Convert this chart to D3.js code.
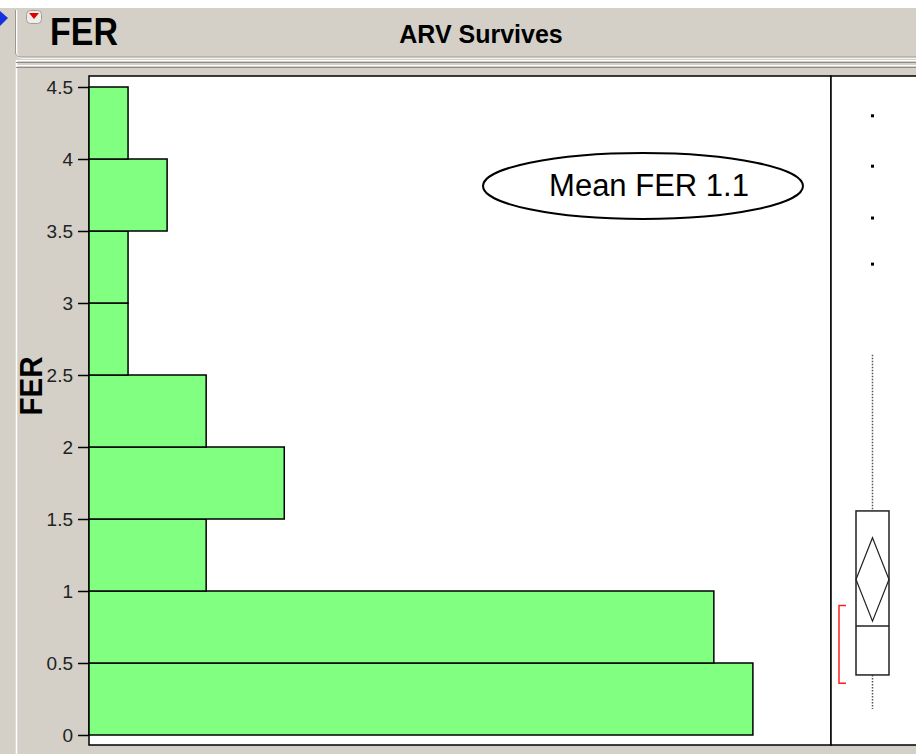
<!DOCTYPE html>
<html>
<head>
<meta charset="utf-8">
<script src="https://cdn.jsdelivr.net/npm/d3@7"></script>
<style>
  html, body { margin: 0; padding: 0; background: #d4d0c8; }
  svg { display: block; font-family: Arial, "Liberation Sans", sans-serif; }
</style>
</head>
<body>
<svg width="916" height="754"></svg>
<script>
// histogram bins (FER) and counts
const binStarts = [0, 0.5, 1, 1.5, 2, 2.5, 3, 3.5, 4];
const binWidth = 0.5;
const counts = [17, 16, 3, 5, 3, 1, 1, 2, 1];
const yTicks = [0, 0.5, 1, 1.5, 2, 2.5, 3, 3.5, 4, 4.5];

// outlier box plot summary
const quartiles = [0.417, 0.757, 1.556];   // q1, median, q3
const whiskers = [0.18, 2.64];
const meanValue = 1.08;
const meanCI = [0.79, 1.37];
const shortestHalf = [0.36, 0.90];
const outliers = [3.27, 3.59, 3.95, 4.30];

const svg = d3.select("svg");

const y = d3.scaleLinear().domain([0, 4.5]).range([735, 87]);
const x = d3.scaleLinear().domain([0, 19]).range([89, 831]);

// window chrome
svg.append("rect").attr("width", 916).attr("height", 754).attr("fill", "#d4d0c8");
svg.append("rect").attr("x", 0).attr("y", 0).attr("width", 916).attr("height", 8).attr("fill", "#fff");
svg.append("line").attr("x1", 16.5).attr("x2", 16.5).attr("y1", 60).attr("y2", 754)
  .attr("stroke", "#fff").attr("stroke-width", 1.5);
svg.append("path")
  .attr("d", "M16.5,10 L16.5,52 Q16.5,58 22.5,58 L916,58")
  .attr("fill", "none").attr("stroke", "#fff").attr("stroke-width", 1.5);
svg.append("path")
  .attr("d", "M15.5,10 L15.5,52 Q15.5,57 21.5,57 L916,57")
  .attr("fill", "none").attr("stroke", "#9a9892").attr("stroke-width", 1);
[[60.5, "#ffffff"], [62.5, "#8f8d88"], [65.5, "#ffffff"], [67.5, "#8f8d88"]].forEach(([yy, c]) => {
  svg.append("line").attr("x1", 16).attr("x2", 916).attr("y1", yy).attr("y2", yy)
    .attr("stroke", c).attr("stroke-width", 1);
});

// blue disclosure triangle and red menu button
svg.append("path").attr("d", "M0,11 L8,18 L0,26 Z").attr("fill", "#1530e0");
svg.append("rect").attr("x", 26.5).attr("y", 10.5).attr("width", 15).attr("height", 13).attr("rx", 4)
  .attr("fill", "#eeeeea").attr("stroke", "#a09e98");
svg.append("path").attr("d", "M29,13 L39,13 L34,19 Z").attr("fill", "#e00000");

svg.append("text").attr("x", 50).attr("y", 45).style("font-size", "38px").attr("font-weight", "bold")
  .attr("textLength", 68).attr("lengthAdjust", "spacingAndGlyphs").text("FER");
svg.append("text").attr("x", 481).attr("y", 43).attr("text-anchor", "middle")
  .style("font-size", "25px").attr("font-weight", "bold").text("ARV Survives");

// plot areas
svg.append("rect").attr("x", x(0)).attr("y", 76).attr("width", x(19) - x(0)).attr("height", 669)
  .attr("fill", "#fff").attr("stroke", "#000").attr("stroke-width", 1.5);
svg.append("rect").attr("x", x(19)).attr("y", 76).attr("width", 100).attr("height", 669)
  .attr("fill", "#fff").attr("stroke", "#000").attr("stroke-width", 1.5);

// histogram bars
svg.append("g").selectAll("rect")
  .data(binStarts.map((b, i) => ({ b, n: counts[i] })))
  .join("rect")
  .attr("x", x(0))
  .attr("y", d => y(d.b + binWidth))
  .attr("width", d => x(d.n) - x(0))
  .attr("height", d => y(d.b) - y(d.b + binWidth))
  .attr("fill", "#80ff80")
  .attr("stroke", "#000")
  .attr("stroke-width", 1.5);

// y axis
const yAxis = d3.axisLeft(y).tickValues(yTicks).tickSize(11).tickPadding(5)
  .tickFormat(d => d3.format("~g")(d));
const ga = svg.append("g").attr("transform", `translate(${x(0)},0)`).call(yAxis);
ga.attr("font-size", null).attr("font-family", null);
ga.select(".domain").remove();
ga.selectAll("line").attr("stroke", "#000").attr("stroke-width", 1.5);
ga.selectAll("text").style("font-size", "19px").attr("fill", "#222");

svg.append("text").attr("transform", "translate(42,386) rotate(-90)")
  .attr("x", -29.5).style("font-size", "32px").attr("font-weight", "bold")
  .attr("textLength", 59).attr("lengthAdjust", "spacingAndGlyphs").text("FER");

// annotation ellipse
svg.append("ellipse").attr("cx", 643).attr("cy", 186).attr("rx", 160).attr("ry", 33)
  .attr("fill", "#fff").attr("stroke", "#000").attr("stroke-width", 2);
svg.append("text").attr("x", 649).attr("y", 196).attr("text-anchor", "middle")
  .style("font-size", "31px").text("Mean FER 1.1");

// outlier box plot
const cx = 872.5, bw = 33;
const bp = svg.append("g");
bp.append("line").attr("x1", cx).attr("x2", cx).attr("y1", y(whiskers[1])).attr("y2", y(quartiles[2]))
  .attr("stroke", "#555").attr("stroke-width", 1.5).attr("stroke-dasharray", "1.5,1.5");
bp.append("line").attr("x1", cx).attr("x2", cx).attr("y1", y(quartiles[0])).attr("y2", y(whiskers[0]))
  .attr("stroke", "#555").attr("stroke-width", 1.5).attr("stroke-dasharray", "1.5,1.5");
bp.append("rect").attr("x", cx - bw / 2).attr("y", y(quartiles[2])).attr("width", bw)
  .attr("height", y(quartiles[0]) - y(quartiles[2]))
  .attr("fill", "#fff").attr("stroke", "#222").attr("stroke-width", 1.5);
bp.append("line").attr("x1", cx - bw / 2).attr("x2", cx + bw / 2)
  .attr("y1", y(quartiles[1])).attr("y2", y(quartiles[1]))
  .attr("stroke", "#222").attr("stroke-width", 1.5);
bp.append("path")
  .attr("d", `M${cx},${y(meanCI[1])} L${cx + bw / 2},${y(meanValue)} L${cx},${y(meanCI[0])} L${cx - bw / 2},${y(meanValue)} Z`)
  .attr("fill", "none").attr("stroke", "#222").attr("stroke-width", 1.2);
bp.append("path")
  .attr("d", `M846,${y(shortestHalf[1])} L839,${y(shortestHalf[1])} L839,${y(shortestHalf[0])} L846,${y(shortestHalf[0])}`)
  .attr("fill", "none").attr("stroke", "#ff2020").attr("stroke-width", 1.5);
bp.selectAll("rect.out").data(outliers).join("rect").attr("class", "out")
  .attr("x", cx - 1.5).attr("y", d => y(d) - 1.5).attr("width", 3).attr("height", 3).attr("fill", "#000");
</script>
</body>
</html>
